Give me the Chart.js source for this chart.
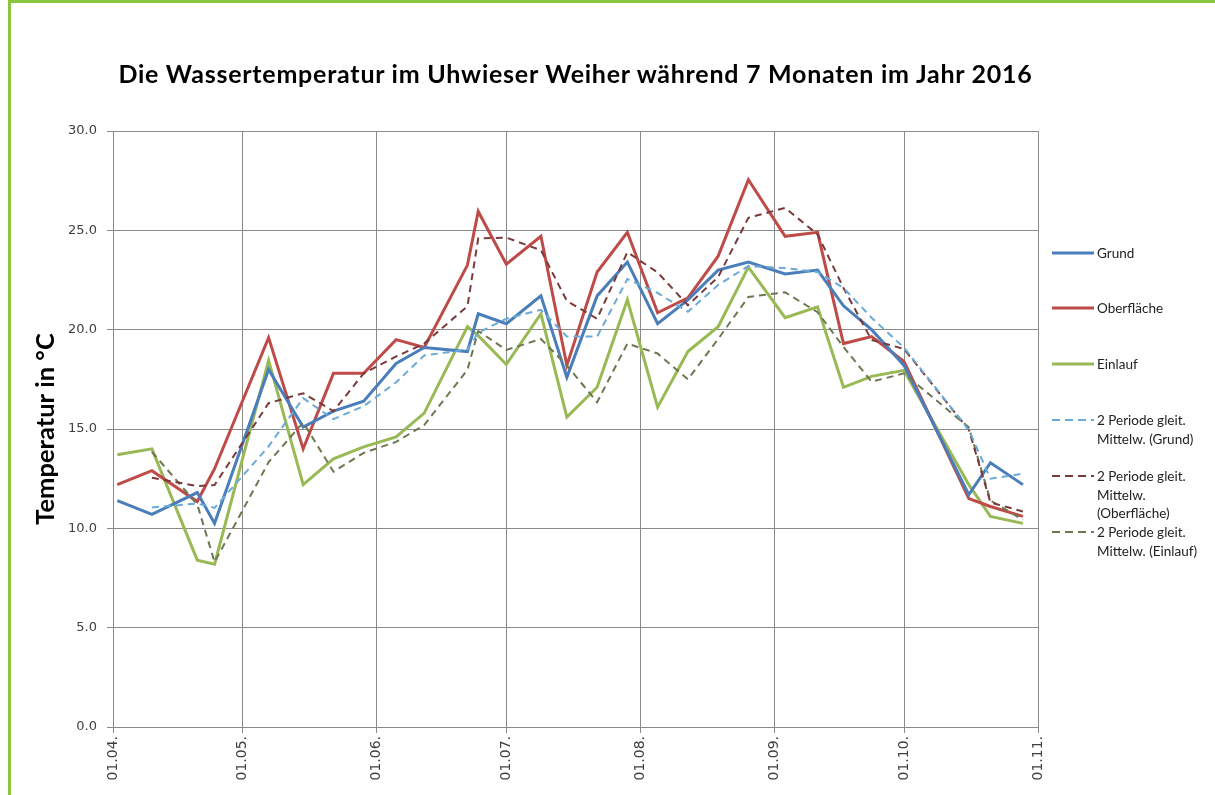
<!DOCTYPE html>
<html><head><meta charset="utf-8">
<script src="https://cdn.jsdelivr.net/npm/chart.js@4"></script>
<style>
html,body{margin:0;padding:0;background:#fff;}
#wrap{position:relative;width:1215px;height:795px;overflow:hidden;font-family:Lato,"Open Sans",sans-serif;}
#frameTop{position:absolute;left:8px;top:0;width:1207px;height:3px;background:#8CC63F;}
#frameLeft{position:absolute;left:8px;top:0;width:3px;height:795px;background:#8CC63F;}
#title{position:absolute;left:100px;width:951px;top:58px;text-align:center;font-weight:bold;font-size:25px;letter-spacing:0.75px;color:#000;white-space:nowrap;}
canvas{position:absolute;left:0;top:0;}
.lg{position:absolute;left:1052px;font-size:13.5px;color:#222;line-height:18.5px;}
.lg svg{position:absolute;left:0;}
.lg span{position:absolute;left:45px;white-space:nowrap;}
</style></head>
<body>
<div id="wrap">
<canvas id="c" width="1215" height="795"></canvas>
<div id="frameTop"></div><div id="frameLeft"></div>
<div id="title">Die Wassertemperatur im Uhwieser Weiher während 7 Monaten im Jahr 2016</div>
<div id="legend"></div>
</div>
<script>
// x values: days after 01.04.2016
const days = [1,9,19.5,23.5,36,44,51,58,65.5,72,82,84.5,91,99,105,112,119,126,133,140,147,155.5,163,169,175.5,183,198,203,210.5];
const grund = [11.4,10.7,11.8,10.25,18.0,15.1,15.9,16.4,18.3,19.1,18.9,20.8,20.3,21.7,17.6,21.7,23.4,20.3,21.5,23.0,23.4,22.8,23.0,21.2,20.0,18.2,11.7,13.3,12.2];
const oberflaeche = [12.2,12.9,11.35,13.0,19.6,14.0,17.8,17.8,19.5,19.1,23.25,25.95,23.3,24.7,18.2,22.9,24.9,20.85,21.6,23.7,27.55,24.7,24.9,19.3,19.65,18.4,11.5,11.1,10.6];
const einlauf = [13.7,14.0,8.4,8.2,18.45,12.2,13.5,14.1,14.6,15.8,20.15,19.7,18.25,20.8,15.6,17.1,21.5,16.1,18.9,20.15,23.15,20.6,21.15,17.1,17.65,17.95,12.2,10.6,10.25];
// 2-period moving averages (first point has none)
const maGrund = [null,11.05,11.25,11.03,14.13,16.55,15.5,16.15,17.35,18.7,19.0,19.85,20.55,21.0,19.65,19.65,22.55,21.85,20.9,22.25,23.2,23.1,22.9,22.1,20.6,19.1,14.95,12.5,12.75];
const maOberflaeche = [null,12.55,12.13,12.18,16.3,16.8,15.9,17.8,18.65,19.3,21.18,24.6,24.63,24.0,21.45,20.55,23.9,22.88,21.23,22.65,25.63,26.13,24.8,22.1,19.48,19.03,14.95,11.3,10.85];
const maEinlauf = [null,13.85,11.2,8.3,13.33,15.33,12.85,13.8,14.35,15.2,17.98,19.93,18.98,19.53,18.2,16.35,19.3,18.8,17.5,19.53,21.65,21.88,20.88,19.13,17.38,17.8,15.08,11.4,10.43];
// month ticks
const tickDays = [0,30,61,91,122,153,183,214];
const tickLabels = ['01.04.','01.05.','01.06.','01.07.','01.08.','01.09.','01.10.','01.11.'];
const seriesNames = ['Grund','Oberfläche','Einlauf','2 Periode gleit. Mittelw. (Grund)','2 Periode gleit. Mittelw. (Oberfläche)','2 Periode gleit. Mittelw. (Einlauf)'];

const colors = ['#4A7EBB','#BE4B48','#98B954','#6AAAD8','#7A3A3A','#6E7652'];
const toPts = arr => days.map((d,i)=>({x:d,y:arr[i]})).filter(p=>p.y!==null);
const allSeries = [grund,oberflaeche,einlauf,maGrund,maOberflaeche,maEinlauf];
const datasets = allSeries.map((arr,i)=>({
  label: seriesNames[i],
  data: toPts(arr),
  borderColor: colors[i],
  borderWidth: i<3 ? 3 : 2,
  borderDash: i<3 ? [] : [7,5],
  pointRadius: 0,
  tension: 0,
  fill: false,
  order: i<3 ? 1 : 0
}));

new Chart(document.getElementById('c'), {
  type: 'line',
  data: { datasets },
  options: {
    responsive: false,
    animation: false,
    layout: { padding: { left: 0, top: 131, right: 177, bottom: 0 } },
    plugins: { legend: { display: false }, tooltip: { enabled: false }, title: { display: false } },
    scales: {
      x: {
        type: 'linear', min: 0, max: 214,
        afterBuildTicks: s => { s.ticks = tickDays.map(v=>({value:v})); },
        afterFit: s => { s.height = 68; },
        grid: { color: '#8A8A8A', lineWidth: 1, drawTicks: true, tickLength: 6 },
        border: { color: '#8A8A8A' },
        ticks: {
          autoSkip: false, minRotation: 90, maxRotation: 90, padding: 3,
          font: { family: 'DejaVu Sans', size: 14 }, color: '#404040',
          callback: v => { const i = tickDays.indexOf(v); return i>=0 ? tickLabels[i] : ''; }
        }
      },
      y: {
        min: 0, max: 30,
        afterFit: s => { s.width = 113; },
        grid: { color: '#8A8A8A', lineWidth: 1, drawTicks: true, tickLength: 6 },
        border: { color: '#8A8A8A' },
        ticks: { stepSize: 5, padding: 10, font: { family: 'DejaVu Sans', size: 13 }, color: '#404040',
          callback: v => v.toFixed(1) },
        title: { display: true, text: 'Temperatur in °C', font: { family: 'Lato', size: 25.5, weight: 'bold' }, color: '#000', padding: { top: 30, bottom: 0 } }
      }
    }
  }
});

// HTML legend
const legendRows = [
  {y:253, lines:['Grund']},
  {y:308, lines:['Oberfläche']},
  {y:364, lines:['Einlauf']},
  {y:420, lines:['2 Periode gleit.','Mittelw. (Grund)']},
  {y:476, lines:['2 Periode gleit.','Mittelw.','(Oberfläche)']},
  {y:532, lines:['2 Periode gleit.','Mittelw. (Einlauf)']}
];
const lg = document.getElementById('legend');
legendRows.forEach((r,i)=>{
  const d = document.createElement('div');
  d.className = 'lg';
  d.style.top = (r.y - 9) + 'px';
  const dash = i<3 ? '' : 'stroke-dasharray="8,5"';
  const w = i<3 ? 3 : 2;
  d.innerHTML = `<svg width="42" height="18" style="top:0"><line x1="0" y1="9" x2="42" y2="9" stroke="${colors[i]}" stroke-width="${w}" ${dash}/></svg>` +
    r.lines.map((t,k)=>`<span style="top:${k*18.5}px">${t}</span>`).join('');
  lg.appendChild(d);
});
</script>
</body></html>
